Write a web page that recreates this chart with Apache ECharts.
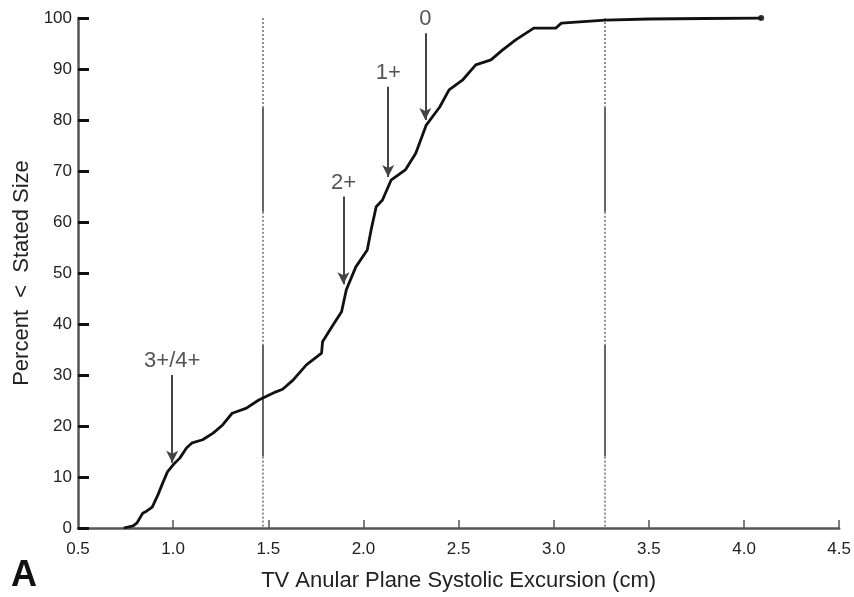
<!DOCTYPE html>
<html>
<head>
<meta charset="utf-8">
<script src="https://cdn.jsdelivr.net/npm/echarts@6/dist/echarts.min.js"></script>
<style>
  html, body { margin: 0; padding: 0; background: #fff; }
  #chart { width: 854px; height: 597px; }
</style>
</head>
<body>
<div id="chart"></div>
<script>
// Cumulative distribution of TAPSE (cm) vs percent below that size
const tapseCm = [0.74, 0.79, 0.81, 0.84, 0.86, 0.89, 0.92, 0.945, 0.97, 1.0, 1.035, 1.07, 1.10, 1.155, 1.21, 1.26, 1.31, 1.34, 1.385, 1.45, 1.54, 1.575, 1.63, 1.70, 1.78, 1.785, 1.84, 1.885, 1.91, 1.96, 2.02, 2.04, 2.067, 2.10, 2.145, 2.22, 2.275, 2.33, 2.40, 2.45, 2.52, 2.59, 2.67, 2.73, 2.80, 2.895, 3.01, 3.04, 3.27, 3.5, 4.09];
const percentBelow = [0, 0.4, 1.0, 2.9, 3.3, 4.1, 6.5, 8.8, 11, 12.4, 13.7, 15.7, 16.7, 17.3, 18.6, 20.2, 22.5, 22.9, 23.5, 25.1, 26.7, 27.2, 29, 32, 34.3, 36.5, 39.8, 42.4, 46.7, 51.2, 54.5, 58.4, 63, 64.3, 68.2, 70.2, 73.5, 79, 82.5, 85.9, 87.8, 90.8, 91.8, 93.7, 95.7, 98, 98, 99, 99.6, 99.8, 100];

// Regurgitation grade markers: label, x position, arrow top, arrow tip
const gradeLabels = ['3+/4+', '2+', '1+', '0'];
const gradeX = [0.995, 1.895, 2.13, 2.325];
const gradeTop = [30, 65, 86.5, 97];
const gradeTip = [12.8, 47.8, 68.8, 80];

// Reference limits (cm) and the solid stretches along them (percent)
const refLimits = [1.47, 3.27];
const dottedStretches = [[82.5, 100], [36, 62], [0, 14]];
const solidStretches = [[62, 82.5], [14, 36]];

// Axis ticks
const xTicks = [0.5, 1.0, 1.5, 2.0, 2.5, 3.0, 3.5, 4.0, 4.5];
const yTicks = [0, 10, 20, 30, 40, 50, 60, 70, 80, 90, 100];

const FONT = 'Liberation Sans, Arial, sans-serif';
const chart = echarts.init(document.getElementById('chart'), null, { renderer: 'canvas' });

const curve = tapseCm.map((x, i) => [x, percentBelow[i]]);

const refSegments = [];
refLimits.forEach(x => {
  dottedStretches.forEach(([a, b]) => refSegments.push({ x, a, b, dotted: true }));
  solidStretches.forEach(([a, b]) => refSegments.push({ x, a, b, dotted: false }));
});

const refLines = refSegments.map(s => [
  { coord: [s.x, s.b], lineStyle: { type: s.dotted ? [2, 2] : 'solid', width: s.dotted ? 1.6 : 2, color: s.dotted ? '#777' : '#666' } },
  { coord: [s.x, s.a] }
]);

const arrows = gradeLabels.map((t, i) => [
  { coord: [gradeX[i], gradeTop[i]], label: { formatter: t } },
  { coord: [gradeX[i], gradeTip[i]] }
]);

chart.setOption({
  animation: false,
  backgroundColor: '#fff',
  grid: { left: 78, right: 13, top: 18, bottom: 69, containLabel: false },
  xAxis: {
    type: 'value',
    min: 0.5, max: 4.5, interval: 0.5,
    name: 'TV Anular Plane Systolic Excursion (cm)',
    nameLocation: 'middle', nameGap: 42,
    nameTextStyle: { fontFamily: FONT, fontSize: 22, color: '#222' },
    axisLine: { lineStyle: { color: '#555', width: 2.5 } },
    axisTick: { inside: true, length: 8, lineStyle: { color: '#555', width: 1.5 }, customValues: xTicks.slice(1) },
    axisLabel: { fontFamily: FONT, fontSize: 17, color: '#222', margin: 13, formatter: v => v.toFixed(1), customValues: xTicks },
    splitLine: { show: false }
  },
  yAxis: {
    type: 'value',
    min: 0, max: 100, interval: 10,
    name: 'Percent  <  Stated Size',
    nameLocation: 'middle', nameGap: 44,
    nameTextStyle: { fontFamily: FONT, fontSize: 22, color: '#222' },
    axisLine: { show: true, lineStyle: { color: '#555', width: 2.5 } },
    axisTick: { show: true, inside: true, length: 11, lineStyle: { color: '#111', width: 3 }, customValues: yTicks },
    axisLabel: { fontFamily: FONT, fontSize: 17, color: '#222', margin: 6, customValues: yTicks },
    splitLine: { show: false }
  },
  series: [
    {
      type: 'line',
      data: curve,
      showSymbol: false,
      lineStyle: { color: '#111', width: 2.8 },
      z: 5,
      markPoint: {
        symbol: 'circle', symbolSize: 6,
        itemStyle: { color: '#333' },
        label: { show: false },
        data: [{ coord: curve[curve.length - 1] }]
      },
      markLine: {
        silent: true,
        symbol: ['none', 'none'],
        label: { show: false },
        data: refLines
      }
    },
    {
      type: 'line',
      data: [],
      markLine: {
        silent: true,
        symbol: ['none', 'arrow'],
        symbolSize: [9, 12],
        lineStyle: { color: '#444', width: 2, type: 'solid' },
        label: {
          show: true, position: 'start', distance: 3,
          fontFamily: FONT, fontSize: 22, color: '#555'
        },
        data: arrows
      }
    }
  ],
  graphic: [
    {
      type: 'text', left: 11, top: 558,
      style: { text: 'A', fontFamily: FONT, fontSize: 36, fontWeight: 'bold', fill: '#111' }
    }
  ]
});
</script>
</body>
</html>
